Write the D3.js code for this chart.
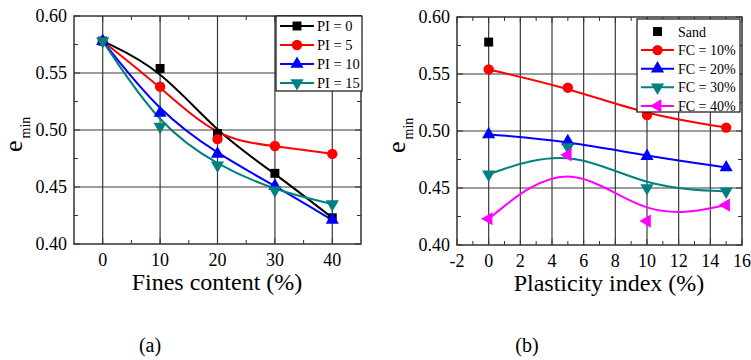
<!DOCTYPE html>
<html>
<head>
<meta charset="utf-8">
<script src="https://cdn.jsdelivr.net/npm/d3@7"></script>
<style>
  body { margin: 0; background: #fff; }
  svg { display: block; }
</style>
</head>
<body>
<svg id="chart" width="751" height="360" font-family="'Liberation Serif', 'Times New Roman', Tinos, 'DejaVu Serif', serif"></svg>
<script>
// (a) emin vs fines content, one series per plasticity index
const finesContent = [0, 10, 20, 30, 40];
const pi0 = [0.578, 0.554, 0.497, 0.462, 0.423];
const pi5 = [0.578, 0.538, 0.492, 0.486, 0.479];
const pi10 = [0.578, 0.515, 0.479, 0.451, 0.421];
const pi15 = [0.578, 0.503, 0.469, 0.447, 0.435];

// (b) emin vs plasticity index, one series per fines content
const plasticityIndex = [0, 5, 10, 15];
const sand = [0.578];
const fc10 = [0.554, 0.538, 0.514, 0.503];
const fc20 = [0.497, 0.491, 0.478, 0.468];
const fc30 = [0.462, 0.486, 0.450, 0.447];
const fc40 = [0.423, 0.479, 0.421, 0.435];

const yTicks = [0.40, 0.45, 0.50, 0.55, 0.60];
const xTicksA = [0, 10, 20, 30, 40];
const xTicksB = [-2, 0, 2, 4, 6, 8, 10, 12, 14, 16];

const svg = d3.select("#chart");

const symbols = {
  square: d3.symbol().type(d3.symbolSquare).size(80),
  circle: d3.symbol().type(d3.symbolCircle).size(85),
  tri: d3.symbol().type(d3.symbolTriangle).size(75),
};

function markerPath(shape) {
  if (shape === "triDown" || shape === "triLeft" || shape === "triUp") return symbols.tri();
  return symbols[shape]();
}
function markerRotate(shape) {
  if (shape === "triDown") return 180;
  if (shape === "triLeft") return -90;
  return 0;
}

function panel(opts) {
  const { left, right, top, bottom } = opts.box;
  const x = d3.scaleLinear().domain(opts.xDomain).range([left, right]);
  const y = d3.scaleLinear().domain([0.40, 0.60]).range([bottom, top]);
  const g = svg.append("g");

  // grid
  g.selectAll(".vgrid")
    .data(opts.xGrid)
    .join("line")
    .attr("x1", d => x(d)).attr("x2", d => x(d))
    .attr("y1", top).attr("y2", bottom)
    .attr("stroke", "#3a3a3a").attr("stroke-width", 1.2);
  g.selectAll(".hgrid")
    .data([0.45, 0.50, 0.55])
    .join("line")
    .attr("x1", left).attr("x2", right)
    .attr("y1", d => y(d)).attr("y2", d => y(d))
    .attr("stroke", "#3a3a3a").attr("stroke-width", 1.2);

  // inward ticks on all four sides
  const ticks = g.append("g").attr("stroke", "#333").attr("stroke-width", 1);
  const tick = (arr, len, horiz) => {
    arr.forEach(v => {
      if (horiz) {
        ticks.append("line").attr("x1", x(v)).attr("x2", x(v)).attr("y1", bottom).attr("y2", bottom - len);
        ticks.append("line").attr("x1", x(v)).attr("x2", x(v)).attr("y1", top).attr("y2", top + len);
      } else {
        ticks.append("line").attr("y1", y(v)).attr("y2", y(v)).attr("x1", left).attr("x2", left + len);
        ticks.append("line").attr("y1", y(v)).attr("y2", y(v)).attr("x1", right).attr("x2", right - len);
      }
    });
  };
  tick(opts.xTicks, 6, true);
  tick(opts.xMinor, 4, true);
  tick(yTicks, 6, false);
  tick([0.425, 0.475, 0.525, 0.575], 4, false);

  // curves (B-spline through the measured points)
  const line = d3.line().x(d => x(d[0])).y(d => y(d[1])).curve(d3.curveBasis);
  opts.series.forEach(s => {
    const pts = s.values.map((v, i) => [s.xs[i], v]);
    if (s.line !== false) {
      g.append("path")
        .datum(pts)
        .attr("d", line)
        .attr("fill", "none")
        .attr("stroke", s.color)
        .attr("stroke-width", 2);
    }
  });
  opts.series.forEach(s => {
    const pts = s.values.map((v, i) => [s.xs[i], v]);
    g.selectAll(null)
      .data(pts)
      .join("path")
      .attr("d", markerPath(s.shape))
      .attr("transform", d => `translate(${x(d[0])},${y(d[1])}) rotate(${markerRotate(s.shape)})`)
      .attr("fill", s.color);
  });

  // frame
  g.append("rect")
    .attr("x", left).attr("y", top)
    .attr("width", right - left).attr("height", bottom - top)
    .attr("fill", "none").attr("stroke", "#333").attr("stroke-width", 1.5);

  // tick labels
  g.selectAll(".ylab")
    .data(yTicks)
    .join("text")
    .attr("x", left - 7)
    .attr("y", d => y(d) + 6)
    .attr("text-anchor", "end")
    .attr("font-size", 18)
    .text(d => d3.format(".2f")(d));
  g.selectAll(".xlab")
    .data(opts.xTicks)
    .join("text")
    .attr("x", d => x(d))
    .attr("y", bottom + 22)
    .attr("text-anchor", "middle")
    .attr("font-size", 18)
    .text(d => d);

  // axis titles
  g.append("text")
    .attr("x", opts.xTitleX)
    .attr("y", bottom + 46)
    .attr("text-anchor", "middle")
    .attr("font-size", 24)
    .text(opts.xTitle);
  const yt = g.append("text")
    .attr("transform", `translate(${left - 52},${(top + bottom) / 2 + 22}) rotate(-90)`)
    .attr("font-size", 26);
  yt.append("tspan").text("e");
  yt.append("tspan").attr("font-size", 14).attr("dy", 8).attr("dx", 2).text("min");

  // legend
  const lg = g.append("g");
  const lb = opts.legend;
  lg.append("rect")
    .attr("x", lb.x).attr("y", lb.y)
    .attr("width", lb.w).attr("height", lb.h)
    .attr("fill", "#fff").attr("stroke", "#111").attr("stroke-width", 1.2);
  opts.series.forEach((s, i) => {
    const cy = lb.y + lb.first + i * lb.step;
    if (s.line !== false) {
      lg.append("line")
        .attr("x1", lb.x + 4).attr("x2", lb.x + 4 + lb.len)
        .attr("y1", cy).attr("y2", cy)
        .attr("stroke", s.color).attr("stroke-width", 2);
    }
    lg.append("path")
      .attr("d", markerPath(s.shape))
      .attr("transform", `translate(${lb.x + 4 + lb.len / 2},${cy}) rotate(${markerRotate(s.shape)})`)
      .attr("fill", s.color);
    lg.append("text")
      .attr("x", lb.x + lb.len + lb.gap)
      .attr("y", cy + 5)
      .attr("font-size", lb.font)
      .text(s.name);
  });

  // caption
  svg.append("text")
    .attr("x", opts.caption[0]).attr("y", opts.caption[1])
    .attr("text-anchor", "middle")
    .attr("font-size", 20)
    .text(opts.captionText);
}

panel({
  box: { left: 74, right: 361, top: 16, bottom: 244 },
  xDomain: [-5, 45],
  xGrid: [0, 10, 20, 30, 40],
  xTicks: xTicksA,
  xMinor: [5, 15, 25, 35],
  xTitle: "Fines content (%)",
  xTitleX: 217,
  series: [
    { name: "PI = 0", xs: finesContent, values: pi0, color: "#000000", shape: "square" },
    { name: "PI = 5", xs: finesContent, values: pi5, color: "#ff0000", shape: "circle" },
    { name: "PI = 10", xs: finesContent, values: pi10, color: "#0000ff", shape: "triUp" },
    { name: "PI = 15", xs: finesContent, values: pi15, color: "#008080", shape: "triDown" },
  ],
  legend: { x: 276, y: 16, w: 86, h: 75, first: 10, step: 19, len: 34, gap: 7, font: 14.5 },
  caption: [150, 352],
  captionText: "(a)",
});

panel({
  box: { left: 457, right: 742, top: 17, bottom: 245 },
  xDomain: [-2, 16],
  xGrid: [0, 2, 4, 6, 8, 10, 12, 14],
  xTicks: xTicksB,
  xMinor: [-1, 1, 3, 5, 7, 9, 11, 13, 15],
  xTitle: "Plasticity index (%)",
  xTitleX: 609,
  series: [
    { name: "Sand", xs: [0], values: sand, color: "#000000", shape: "square", line: false },
    { name: "FC = 10%", xs: plasticityIndex, values: fc10, color: "#ff0000", shape: "circle" },
    { name: "FC = 20%", xs: plasticityIndex, values: fc20, color: "#0000ff", shape: "triUp" },
    { name: "FC = 30%", xs: plasticityIndex, values: fc30, color: "#008080", shape: "triDown" },
    { name: "FC = 40%", xs: plasticityIndex, values: fc40, color: "#ff00ff", shape: "triLeft" },
  ],
  legend: { x: 637, y: 19, w: 103, h: 93, first: 12.5, step: 18.6, len: 33, gap: 8, font: 14 },
  caption: [527, 352],
  captionText: "(b)",
});
</script>
</body>
</html>
